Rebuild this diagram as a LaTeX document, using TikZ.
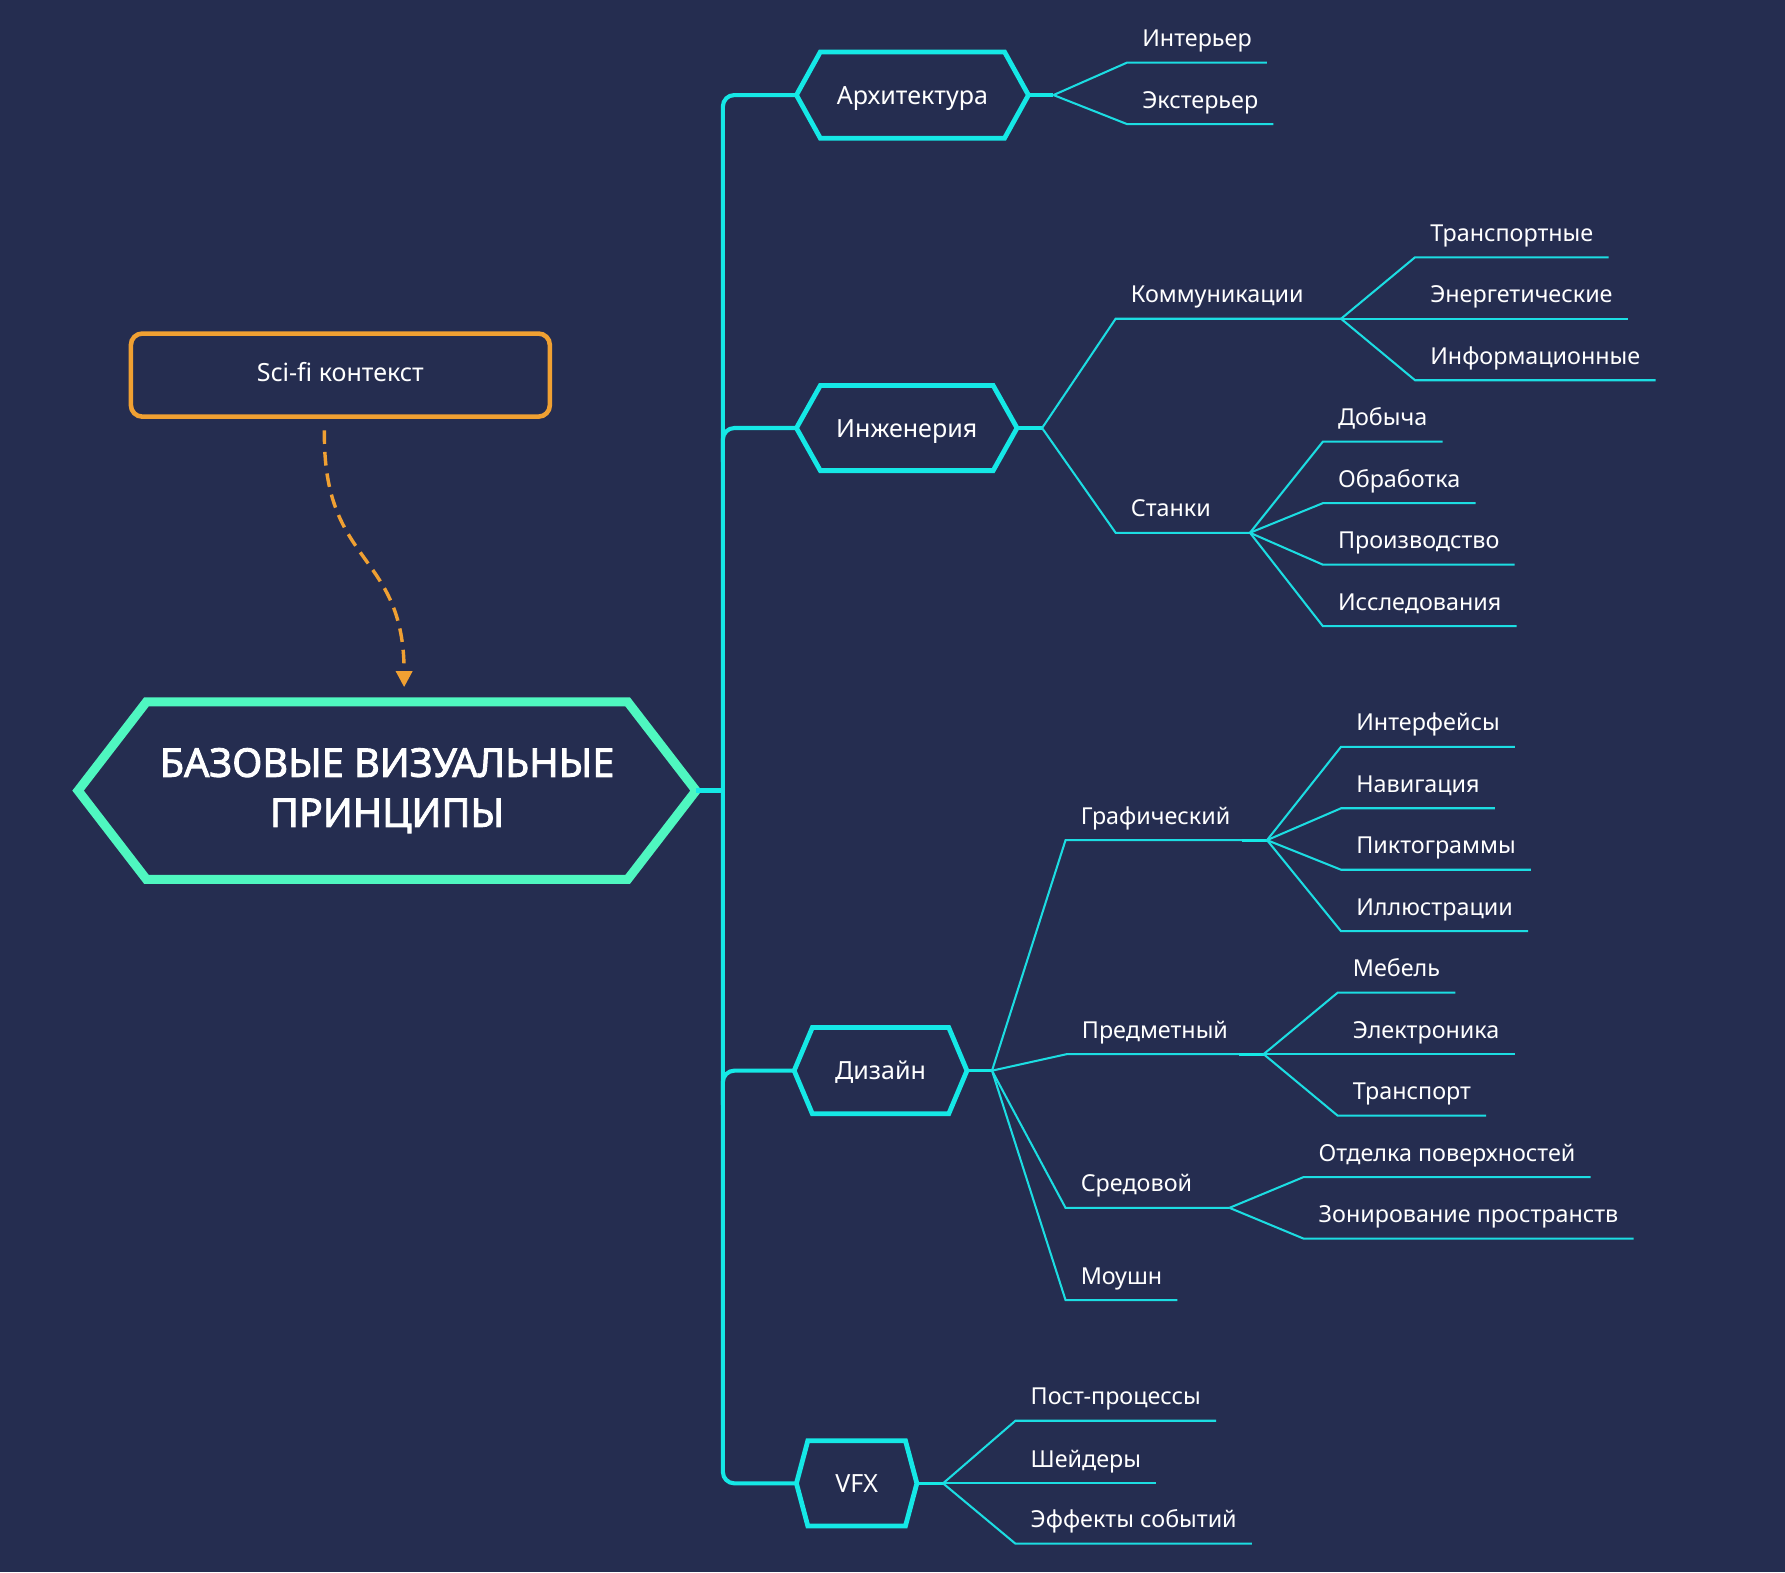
\documentclass[tikz,border=0pt]{standalone}
\usepackage{fontspec}
\setmainfont{Noto Sans}
\newfontfamily\corefont{Noto Sans}[FakeBold=2.2]
\usetikzlibrary{calc,arrows.meta}
\definecolor{bg}{HTML}{252D50}
\definecolor{cyanT}{HTML}{15E8E6}
\definecolor{cyanL}{HTML}{1CDDE2}
\definecolor{mint}{HTML}{4FF7C0}
\definecolor{orng}{HTML}{F0A032}
% hexagon node: #1 line opts, #2 node opts, #3 name, #4 cx, #5 cy, #6 body width, #7 height, #8 slant, #9 text
\newcommand\hexbox[9]{%
  \node[hexbody,#2,minimum width={#6*0.5pt},minimum height={#7*0.5pt}] (#3) at (#4,#5) {#9};
  \draw[#1] ($(#3.west)+(-#8,0)$) coordinate (#3-l) -- (#3.north west) -- (#3.north east)
     -- ($(#3.east)+(#8,0)$) coordinate (#3-r) -- (#3.south east) -- (#3.south west) -- cycle;
}
\newcommand\lab[4]{%
  \coordinate (#1-s) at (#2,#3);
  \node[lbl] (#1) at ({#2+13},{#3-14}) {#4};
}
% #1 junction, #2 name, #3 x, #4 y, #5 text
\newcommand\leaf[5]{%
  \lab{#2}{#3}{#4}{#5}
  \draw[thin] (#1) -- (#2-s) -- ($(#2-s -| #2.east)+(13,0)$);
}
\begin{document}
\begin{tikzpicture}[x=0.5pt,y=-0.5pt,
  hexbody/.style={inner sep=0pt,text=white,font=\fontsize{11}{13}\selectfont,text height=8pt,text depth=0pt},
  lvl1/.style={draw=cyanT,line width=2.1pt,line join=miter},
  corehex/.style={draw=mint,line width=4pt,line join=miter},
  spine/.style={draw=cyanT,line width=1.8pt,rounded corners=5pt},
  stub/.style={draw=cyanT,line width=1.4pt},
  thin/.style={draw=cyanL,line width=0.9pt},
  lbl/.style={anchor=base west,inner sep=0pt,text=white,font=\fontsize{10.25}{12}\selectfont},
  scibox/.style={draw=orng,line width=2pt,rounded corners=5pt,inner sep=0pt,text=white,
     font=\fontsize{11}{13}\selectfont,text height=5.5pt,text depth=0pt},
  dasharrow/.style={draw=orng,line width=1.5pt,dash pattern=on 6pt off 3.5pt,
     -{Triangle[length=7pt,width=7pt]}}
]
\fill[bg] (0,0) rectangle (1568,1381);
\useasboundingbox (0,0) rectangle (1568,1381);
\coordinate (sp) at (635,0);

% core
\hexbox{corehex}{font=\corefont\fontsize{17.4}{22}\selectfont,align=center,text height=,text depth=}{core}{340}{694.5}{422}{155}{60}{БАЗОВЫЕ ВИЗУАЛЬНЫЕ\\ПРИНЦИПЫ}

% sci-fi context
\node[scibox,minimum width=184pt,minimum height=36.5pt] (sci) at (299,329.5) {Sci-fi контекст};
\draw[dasharrow] ([xshift=-7pt,yshift=-5pt]sci.south) coordinate (a1)
   .. controls ($(a1)+(-2,120)$) and ($([xshift=7.5pt,yshift=6.5pt]core.north)+(0,-120)$)
   .. ([xshift=7.5pt,yshift=6.5pt]core.north);

% level 1
\hexbox{lvl1}{}{arch}{801.5}{83.5}{161}{75}{21}{Архитектура}
\hexbox{lvl1}{}{eng}{796.5}{376}{151}{74}{21}{Инженерия}
\hexbox{lvl1}{}{des}{773.5}{940.5}{119}{75}{16}{Дизайн}
\hexbox{lvl1}{}{vfx}{752.5}{1303}{85}{74}{10}{VFX}

% spine
\draw[spine] (arch-l) -- (arch-l -| sp) -- (vfx-l -| sp) -- (vfx-l);
\draw[spine] ($(eng-l -| sp)+(0,30)$) -- (eng-l -| sp) -- (eng-l);
\draw[spine] ($(des-l -| sp)+(0,30)$) -- (des-l -| sp) -- (des-l);
\draw[draw=cyanT,line width=2.5pt] (core-r) -- (core-r -| sp);

% junctions
\coordinate (ja) at ($(arch-r)+(22,0)$);
\coordinate (je) at ($(eng-r)+(22,0)$);
\coordinate (jd) at ($(des-r)+(22,0)$);
\coordinate (jv) at ($(vfx-r)+(23,0)$);
\draw[stub] (arch-r) -- (ja);
\draw[stub] (eng-r) -- (je);
\draw[stub] (des-r) -- (jd);
\draw[stub] (vfx-r) -- (jv);

% Архитектура
\leaf{ja}{int}{990}{55}{Интерьер}
\leaf{ja}{ext}{990}{109}{Экстерьер}

% Инженерия
\lab{kom}{980}{280}{Коммуникации}
\coordinate (jk) at (1178,280);
\draw[thin] (je) -- (kom-s) -- (jk);
\lab{stn}{980}{468}{Станки}
\coordinate (js) at (1098,468);
\draw[thin] (je) -- (stn-s) -- (js);
\leaf{jk}{tra}{1243}{226}{Транспортные}
\leaf{jk}{ene}{1243}{280}{Энергетические}
\leaf{jk}{inf}{1243}{334}{Информационные}
\leaf{js}{dob}{1162}{388}{Добыча}
\leaf{js}{obr}{1162}{442}{Обработка}
\leaf{js}{pro}{1162}{496}{Производство}
\leaf{js}{iss}{1162}{550}{Исследования}

% Дизайн
\lab{gra}{936}{738}{Графический}
\coordinate (jg) at (1113,738);
\draw[thin] (jd) -- (gra-s) -- (jg);
\draw[stub] ($(jg)+(-22,0)$) -- (jg);
\lab{prd}{937}{926}{Предметный}
\coordinate (jp) at (1110,926);
\draw[thin] (jd) -- (prd-s) -- (jp);
\draw[stub] ($(jp)+(-22,0)$) -- (jp);
\lab{srd}{936}{1061}{Средовой}
\coordinate (jsr) at (1080,1061);
\draw[thin] (jd) -- (srd-s) -- (jsr);
\leaf{jd}{mou}{936}{1142}{Моушн}
\leaf{jg}{ifc}{1178}{656}{Интерфейсы}
\leaf{jg}{nav}{1178}{710}{Навигация}
\leaf{jg}{pik}{1178}{764}{Пиктограммы}
\leaf{jg}{ill}{1178}{818}{Иллюстрации}
\leaf{jp}{meb}{1175}{872}{Мебель}
\leaf{jp}{ele}{1175}{926}{Электроника}
\leaf{jp}{trn}{1175}{980}{Транспорт}
\leaf{jsr}{otd}{1145}{1034}{Отделка поверхностей}
\leaf{jsr}{zon}{1145}{1088}{Зонирование пространств}

% VFX
\leaf{jv}{pos}{892}{1248}{Пост-процессы}
\leaf{jv}{she}{892}{1303}{Шейдеры}
\leaf{jv}{eff}{892}{1356}{Эффекты событий}
\end{tikzpicture}
\end{document}
